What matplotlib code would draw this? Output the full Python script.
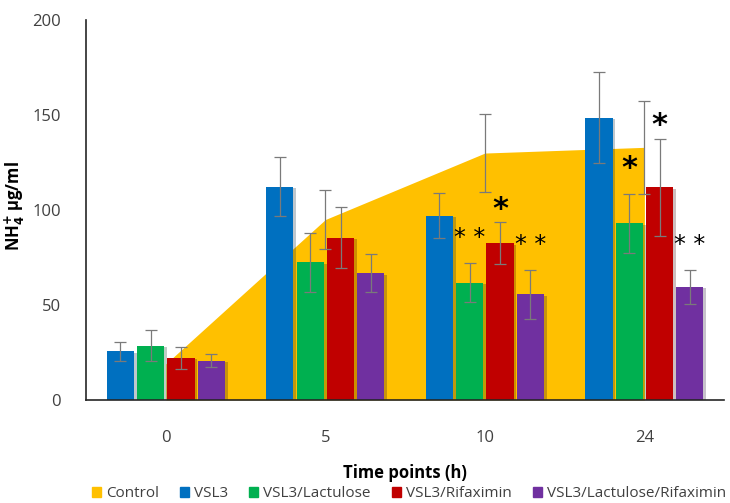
import numpy as np
import matplotlib
matplotlib.use("Agg")
import matplotlib.pyplot as plt
import matplotlib.patheffects as pe
from matplotlib.patches import Patch

plt.rcParams['font.family'] = ['Open Sans', 'DejaVu Sans']

# ---------------- data ----------------
timepoints = ['0', '5', '10', '24']

control = [19, 95, 130, 133]
control_err = [0, 15.5, 20.5, 24.5]

series_names = ['VSL3', 'VSL3/Lactulose', 'VSL3/Rifaximin', 'VSL3/Lactulose/Rifaximin']
vsl3 = [25.5, 112.3, 97, 148.6]
vsl3_err = [5, 15.5, 12, 24]
lactulose = [28.6, 72.5, 61.8, 93]
lactulose_err = [8, 15.5, 10.5, 15.5]
rifaximin = [22.1, 85.4, 82.5, 112]
rifaximin_err = [6, 16, 11, 25.5]
lact_rifax = [20.7, 66.7, 55.6, 59.6]
lact_rifax_err = [3.5, 10, 13, 9]

# significance marks (series index, timepoint index, text)
marks = [(1, 2, '* *'), (2, 2, '*'), (3, 2, '* *'),
         (1, 3, '*'), (2, 3, '*'), (3, 3, '* *')]

colors = ['#0070C0', '#00B050', '#C00000', '#7030A0']
control_color = '#FFC000'
err_color = '#7a7a7a'

# ---------------- plot ----------------
fig = plt.figure(figsize=(7.30, 5.03), dpi=100)
ax = fig.add_axes([0.118, 0.205, 0.874, 0.755])

x = np.arange(len(timepoints))
ax.fill_between(x, 0, control, color=control_color, lw=0, zorder=1)
ax.errorbar(x[1:], control[1:], yerr=control_err[1:], fmt='none',
            ecolor=err_color, elinewidth=0.9, capsize=4, capthick=0.9, zorder=4)

vals = [vsl3, lactulose, rifaximin, lact_rifax]
errs = [vsl3_err, lactulose_err, rifaximin_err, lact_rifax_err]
step = 0.19
width = 0.17
shadow = [pe.SimplePatchShadow(offset=(2, -1), alpha=0.25), pe.Normal()]
for i in range(4):
    xi = x + (i - 1.5) * step
    ax.bar(xi, vals[i], width, color=colors[i], zorder=2, path_effects=shadow)
    ax.errorbar(xi, vals[i], yerr=errs[i], fmt='none', ecolor=err_color,
                elinewidth=0.9, capsize=4, capthick=0.9, zorder=3)

for si, ti, txt in marks:
    xi = ti + (si - 1.5) * step
    top = vals[si][ti] + errs[si][ti]
    if txt == '*':
        # the mark on the lactulose bar at 24 h sits inside the control area
        y = 122 if (si, ti) == (1, 3) else top + 7
        ax.text(xi, y, txt, ha='center', va='center', fontsize=22, zorder=5,
                family='DejaVu Sans', fontweight='bold')
    else:
        ax.text(xi, top + 13, txt, ha='center', va='center', fontsize=17, zorder=5,
                family='DejaVu Sans')

ax.set_xlim(-0.5, 3.5)
ax.set_ylim(0, 200)
ax.set_yticks([0, 50, 100, 150, 200])
ax.set_xticks(x)
ax.set_xticklabels(timepoints)
ax.tick_params(axis='both', length=0, labelsize=12, colors='#404040')
ax.tick_params(axis='y', pad=18)
ax.tick_params(axis='x', pad=22)
for s in ['top', 'right']:
    ax.spines[s].set_visible(False)
ax.spines['left'].set_color('#262626')
ax.spines['bottom'].set_color('#262626')
ax.spines['left'].set_linewidth(1.2)
ax.spines['bottom'].set_linewidth(1.2)

ax.set_ylabel(r'NH$_\mathbf{4}^\mathbf{+}$ μg/ml', fontsize=12, fontweight='bold')
ax.yaxis.set_label_coords(-0.092, 0.51)
ax.set_xlabel('Time points (h)', fontsize=12, fontweight='bold', labelpad=13)

handles = [Patch(color=control_color, label='Control')]
handles += [Patch(color=c, label=n) for c, n in zip(colors, series_names)]
fig.legend(handles=handles, loc='lower center', bbox_to_anchor=(0.56, -0.024), ncol=5,
           frameon=False, fontsize=11, handlelength=0.6, handleheight=0.6,
           handletextpad=0.3, columnspacing=1.4, labelcolor='#404040')

fig.savefig('out.png', dpi=100)
